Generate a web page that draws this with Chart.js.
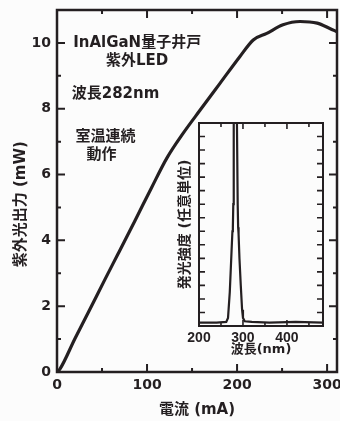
<!DOCTYPE html>
<html>
<head>
<meta charset="utf-8">
<script src="https://cdn.jsdelivr.net/npm/chart.js@4.4.1/dist/chart.umd.min.js"></script>
<style>
  html, body { margin: 0; padding: 0; background: #fcfcfc; }
  #wrap { position: relative; width: 340px; height: 421px; overflow: hidden; }
  #mainChart { position: absolute; left: 0; top: 0; }
  #insetChart { position: absolute; left: 168px; top: 112px; }
</style>
</head>
<body>
<div id="wrap">
  <canvas id="mainChart" width="340" height="421"></canvas>
  <canvas id="insetChart" width="167" height="250"></canvas>
</div>
<script>
// 電流-光出力特性 (main curve)
const currentMA = [0, 3, 20, 35, 53, 68, 87, 105, 122, 140, 159, 181, 203, 218, 233, 251, 270, 289, 303, 311];
const powerMW   = [0, 0.08, 1.02, 1.82, 2.8, 3.6, 4.62, 5.6, 6.5, 7.25, 7.96, 8.77, 9.58, 10.09, 10.29, 10.55, 10.65, 10.6, 10.44, 10.34];
const currentTickLabels = [0, 100, 200, 300];
const powerTickLabels = [0, 2, 4, 6, 8, 10];

// 発光スペクトル (inset)
const wavelengthNM = [200, 240, 262, 266, 270, 274, 276, 277, 278, 279, 281, 286, 288, 289, 290, 292, 295, 298, 300, 304, 320, 360, 420, 482];
const intensityAU  = [0.25, 0.25, 0.3, 0.6, 2.5, 5.5, 7.0, 7.3, 9, 16, 16, 16, 9, 7.3, 6.8, 5.0, 3.0, 1.2, 0.6, 0.35, 0.3, 0.25, 0.3, 0.25];
const wavelengthTickLabels = [200, 300, 400];

const ink = '#241f21';
const latin = "'DejaVu Sans', 'Noto Sans CJK JP', sans-serif";
const narrow = "'Liberation Sans Narrow', 'Liberation Sans', 'Noto Sans CJK JP', sans-serif";

// 枠と内向きの目盛りを描く
const frameTicks = {
  id: 'frameTicks',
  afterDraw(chart, args, opts) {
    const { ctx, chartArea: a, scales: { x, y } } = chart;
    ctx.save();
    ctx.strokeStyle = ink;
    ctx.lineWidth = opts.frame;
    ctx.strokeRect(a.left, a.top, a.right - a.left, a.bottom - a.top);
    ctx.lineWidth = opts.tick;
    ctx.beginPath();
    x.ticks.forEach(t => {
      const px = x.getPixelForValue(t.value);
      const len = opts.xMajor.includes(t.value) ? opts.major : opts.minor;
      ctx.moveTo(px, a.bottom); ctx.lineTo(px, a.bottom - len);
      ctx.moveTo(px, a.top); ctx.lineTo(px, a.top + len);
    });
    y.ticks.forEach(t => {
      const py = y.getPixelForValue(t.value);
      const len = (opts.yMajor === null || opts.yMajor.includes(t.value)) ? opts.major : opts.minor;
      ctx.moveTo(a.left, py); ctx.lineTo(a.left + len, py);
      ctx.moveTo(a.right, py); ctx.lineTo(a.right - len, py);
    });
    ctx.stroke();
    ctx.restore();
  }
};

// グラフ内の注記と縦軸タイトル
const notes = {
  id: 'notes',
  afterDraw(chart, args, opts) {
    const { ctx, scales: { x, y } } = chart;
    ctx.save();
    ctx.fillStyle = ink;
    ctx.textAlign = 'center';
    ctx.textBaseline = 'middle';
    ctx.font = 'bold 15px ' + latin;
    opts.items.forEach(n => {
      ctx.fillText(n.text, x.getPixelForValue(n.x), y.getPixelForValue(n.y));
    });
    ctx.translate(21, y.getPixelForValue(5.1));
    ctx.rotate(-Math.PI / 2);
    ctx.fillText('紫外光出力 (mW)', 0, 0);
    ctx.restore();
  }
};

new Chart(document.getElementById('mainChart'), {
  type: 'line',
  data: {
    datasets: [{
      data: currentMA.map((c, i) => ({ x: c, y: powerMW[i] })),
      borderColor: ink,
      borderWidth: 3.2,
      pointRadius: 0,
      cubicInterpolationMode: 'monotone'
    }]
  },
  options: {
    responsive: false,
    animation: false,
    layout: { padding: { top: 10, right: 3, left: 0, bottom: 0 } },
    plugins: {
      legend: { display: false },
      tooltip: { enabled: false },
      frameTicks: { frame: 2.5, tick: 2, major: 8, minor: 4, xMajor: currentTickLabels, yMajor: powerTickLabels },
      notes: {
        items: [
          { text: 'InAlGaN量子井戸', x: 89, y: 10.0 },
          { text: '紫外LED', x: 89, y: 9.45 },
          { text: '波長282nm', x: 65, y: 8.45 },
          { text: '室温連続', x: 54, y: 7.14 },
          { text: '動作', x: 49.5, y: 6.6 }
        ]
      }
    },
    scales: {
      x: {
        type: 'linear',
        min: 0, max: 311,
        grid: { display: false, drawTicks: false },
        border: { display: false },
        ticks: {
          stepSize: 50, includeBounds: false, padding: 5, maxRotation: 0, autoSkip: false,
          color: ink, font: { family: latin, size: 14, weight: 'bold' },
          callback: v => currentTickLabels.includes(v) ? String(v) : ''
        },
        title: {
          display: true, text: '電流 (mA)', color: ink,
          font: { family: latin, size: 15, weight: 'bold' },
          padding: { top: 0, bottom: 2 }
        },
        afterFit(s) { s.height = 49; s.paddingLeft = 0; s.paddingRight = 0; }
      },
      y: {
        min: 0, max: 11,
        grid: { display: false, drawTicks: false },
        border: { display: false },
        ticks: {
          stepSize: 1, includeBounds: false, padding: 6, autoSkip: false,
          color: ink, font: { family: latin, size: 14, weight: 'bold' },
          callback: v => powerTickLabels.includes(v) ? String(v) : ''
        },
        afterFit(s) { s.width = 57; s.paddingTop = 0; s.paddingBottom = 0; }
      }
    }
  },
  plugins: [frameTicks, notes]
});

new Chart(document.getElementById('insetChart'), {
  type: 'line',
  data: {
    datasets: [{
      data: wavelengthNM.map((w, i) => ({ x: w, y: intensityAU[i] })),
      borderColor: ink,
      borderWidth: 2.2,
      pointRadius: 0,
      tension: 0
    }]
  },
  options: {
    responsive: false,
    animation: false,
    layout: { padding: { top: 11, right: 12, left: 0, bottom: 0 } },
    plugins: {
      legend: { display: false },
      tooltip: { enabled: false },
      frameTicks: { frame: 2, tick: 1.6, major: 6, minor: 4, xMajor: wavelengthTickLabels, yMajor: null }
    },
    scales: {
      x: {
        type: 'linear',
        min: 200, max: 482,
        grid: { display: false, drawTicks: false },
        border: { display: false },
        ticks: {
          stepSize: 50, includeBounds: false, padding: 4, maxRotation: 0, autoSkip: false,
          color: ink, font: { family: narrow, size: 14, weight: 'bold' },
          callback: v => wavelengthTickLabels.includes(v) ? String(v) : ''
        },
        title: {
          display: true, text: '波長(nm)', color: ink,
          font: { family: latin, size: 13, weight: 'bold' },
          padding: { top: 0, bottom: 5 }
        },
        afterFit(s) { s.height = 36; s.paddingLeft = 0; s.paddingRight = 0; }
      },
      y: {
        min: 0, max: 15,
        grid: { display: false, drawTicks: false },
        border: { display: false },
        ticks: { stepSize: 1, display: false },
        title: {
          display: true, text: '発光強度 (任意単位)', color: ink,
          font: { family: latin, size: 14, weight: 'bold' },
          padding: { top: 9, bottom: 0 }
        },
        afterFit(s) { s.width = 31; s.paddingTop = 0; s.paddingBottom = 0; }
      }
    }
  },
  plugins: [frameTicks]
});
</script>
</body>
</html>
